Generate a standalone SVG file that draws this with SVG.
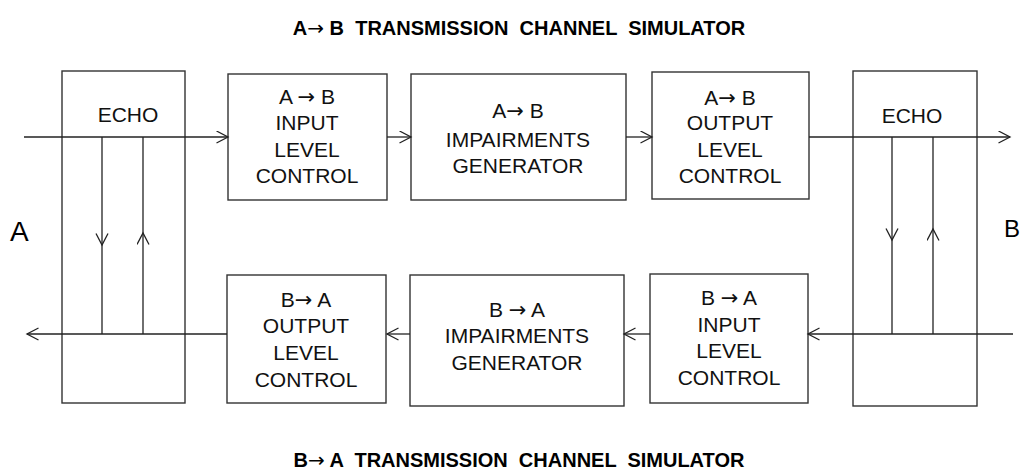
<svg xmlns="http://www.w3.org/2000/svg" width="1021" height="474" viewBox="0 0 1021 474">
<style>
.box{fill:none;stroke:#333;stroke-width:1.4}
.ln{fill:none;stroke:#222;stroke-width:1.3}
.t{font-family:"Liberation Sans",Arial,sans-serif;font-size:21px;fill:#111;text-anchor:middle}
.ar{font-family:"DejaVu Sans",sans-serif;font-weight:normal}
.title{font-family:"Liberation Sans",Arial,sans-serif;font-size:20px;font-weight:bold;fill:#000;text-anchor:middle}
.lab{font-family:"Liberation Sans",Arial,sans-serif;font-size:28px;fill:#000}
</style>
<defs>
<marker id="ah" markerWidth="14" markerHeight="14" refX="12" refY="6.5" orient="auto" markerUnits="userSpaceOnUse">
<path d="M0.5,0.5 L12,6.5 L0.5,12.5" fill="none" stroke="#222" stroke-width="1.3"/>
</marker>
</defs>
<text class="title" x="519" y="35" xml:space="preserve">A<tspan class="ar">→</tspan> B  TRANSMISSION  CHANNEL  SIMULATOR</text>
<text class="title" x="519" y="467" xml:space="preserve">B<tspan class="ar">→</tspan> A  TRANSMISSION  CHANNEL  SIMULATOR</text>
<text class="lab" x="10" y="241">A</text>
<text class="lab" x="1004" y="237" style="font-size:24px">B</text>
<g id="echo-left"><rect class="box" x="62" y="71" width="123" height="332"/><text class="t" x="128" y="122">ECHO</text></g>
<g id="echo-right"><rect class="box" x="853" y="71" width="124" height="335"/><text class="t" x="912" y="123">ECHO</text></g>
<g id="ab-input"><rect class="box" x="228" y="74" width="159" height="126"/>
<text class="t" x="307" y="104" xml:space="preserve">A <tspan class="ar">→</tspan> B</text><text class="t" x="307" y="130">INPUT</text><text class="t" x="307" y="157">LEVEL</text><text class="t" x="307" y="183">CONTROL</text></g>
<g id="ab-imp"><rect class="box" x="411" y="74" width="215" height="126"/>
<text class="t" x="518" y="118" xml:space="preserve">A<tspan class="ar">→</tspan> B</text><text class="t" x="518" y="147">IMPAIRMENTS</text><text class="t" x="518" y="173">GENERATOR</text></g>
<g id="ab-output"><rect class="box" x="652" y="72" width="157" height="127"/>
<text class="t" x="730" y="105" xml:space="preserve">A<tspan class="ar">→</tspan> B</text><text class="t" x="730" y="130">OUTPUT</text><text class="t" x="730" y="157">LEVEL</text><text class="t" x="730" y="183">CONTROL</text></g>
<g id="ba-output"><rect class="box" x="227" y="275" width="159" height="128"/>
<text class="t" x="306" y="307" xml:space="preserve">B<tspan class="ar">→</tspan> A</text><text class="t" x="306" y="333">OUTPUT</text><text class="t" x="306" y="360">LEVEL</text><text class="t" x="306" y="387">CONTROL</text></g>
<g id="ba-imp"><rect class="box" x="410" y="275" width="214" height="131"/>
<text class="t" x="517" y="317" xml:space="preserve">B <tspan class="ar">→</tspan> A</text><text class="t" x="517" y="343">IMPAIRMENTS</text><text class="t" x="517" y="370">GENERATOR</text></g>
<g id="ba-input"><rect class="box" x="650" y="274" width="158" height="129"/>
<text class="t" x="729" y="305" xml:space="preserve">B <tspan class="ar">→</tspan> A</text><text class="t" x="729" y="332">INPUT</text><text class="t" x="729" y="358">LEVEL</text><text class="t" x="729" y="385">CONTROL</text></g>
<g id="connectors">
<path class="ln" d="M24,137 H228" marker-end="url(#ah)"/>
<path class="ln" d="M387,137 H411" marker-end="url(#ah)"/>
<path class="ln" d="M626,137 H652" marker-end="url(#ah)"/>
<path class="ln" d="M809,137 H1010" marker-end="url(#ah)"/>
<path class="ln" d="M1013,334 H808" marker-end="url(#ah)"/>
<path class="ln" d="M650,334 H624" marker-end="url(#ah)"/>
<path class="ln" d="M410,334 H387" marker-end="url(#ah)"/>
<path class="ln" d="M227,334 H27" marker-end="url(#ah)"/>
<path class="ln" d="M102,137 V245" marker-end="url(#ah)"/>
<path class="ln" d="M102,245 V334"/>
<path class="ln" d="M143,334 V233" marker-end="url(#ah)"/>
<path class="ln" d="M143,233 V137"/>
<path class="ln" d="M892,137 V240" marker-end="url(#ah)"/>
<path class="ln" d="M892,240 V334"/>
<path class="ln" d="M933,334 V229" marker-end="url(#ah)"/>
<path class="ln" d="M933,229 V137"/>
</g>
</svg>
